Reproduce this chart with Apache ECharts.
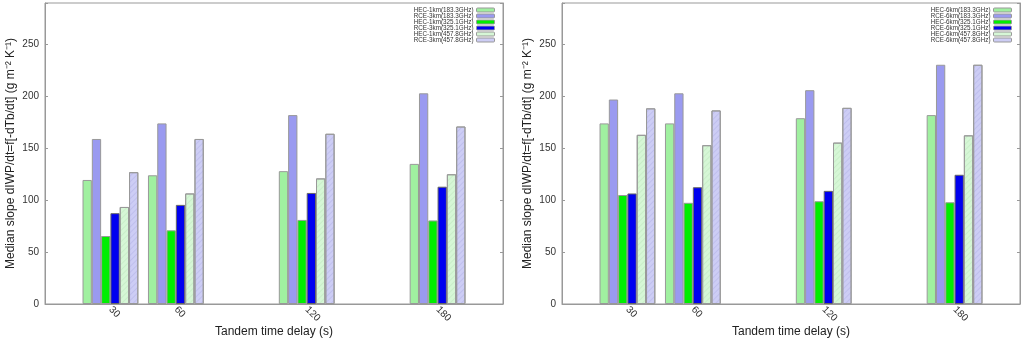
<!DOCTYPE html>
<html>
<head>
<meta charset="utf-8">
<script src="https://cdn.jsdelivr.net/npm/echarts@6/dist/echarts.min.js"></script>
<style>
  html, body { margin: 0; padding: 0; background: #fff; }
  #main { width: 1024px; height: 339px; }
</style>
</head>
<body>
<div id="main"></div>
<script>
// tandem delays (s)
const delays = [30, 60, 120, 180];

// left panel: 1km HEC vs 3km RCE
const hec1km183 = [119.5, 124, 128, 135];
const rce3km183 = [159, 174, 182, 203];
const hec1km325 = [65.5, 71, 81, 80.5];
const rce3km325 = [87.5, 95.5, 107, 113];
const hec1km457 = [93.5, 106.5, 121, 125];
const rce3km457 = [127, 159, 164, 171];

// right panel: 6km HEC vs 6km RCE
const hec6km183 = [174, 174, 179, 182];
const rce6km183 = [197, 203, 206, 230.5];
const hec6km325 = [105, 97.5, 99, 98];
const rce6km325 = [106.5, 112.5, 109, 124.5];
const hec6km457 = [163, 153, 155.5, 162.5];
const rce6km457 = [188.5, 186.5, 189, 230.5];

const colors = ['#a0f0a0', '#9a9af0', '#00ee00', '#0000f0', '#d6f7d6', '#cdcdf5'];
const hatch = [null, null, null, null, 'rgba(150,200,150,0.2)', 'rgba(140,140,210,0.22)'];
const FONT = '"Liberation Sans", Arial, sans-serif';

const chart = echarts.init(document.getElementById('main'));

function pairs(vals) {
  return delays.map((d, i) => [d, vals[i]]);
}

function makeSeries(names, sets, gi) {
  return names.map((name, k) => {
    const style = {
      color: colors[k],
      borderColor: k === 3 ? '#666' : '#999',
      borderWidth: 1
    };
    if (hatch[k]) {
      style.decal = {
        symbol: 'rect', symbolSize: 1,
        dashArrayX: [[1, 0]], dashArrayY: [1, 3],
        rotation: -Math.PI / 4, color: hatch[k]
      };
    }
    return {
      name,
      type: 'bar',
      xAxisIndex: gi,
      yAxisIndex: gi * 2,
      data: pairs(sets[k]),
      barWidth: 9.3,
      barGap: '0%',
      itemStyle: style
    };
  });
}

const leftNames = ['HEC-1km(183.3GHz)', 'RCE-3km(183.3GHz)', 'HEC-1km(325.1GHz)',
  'RCE-3km(325.1GHz)', 'HEC-1km(457.8GHz)', 'RCE-3km(457.8GHz)'];
const rightNames = ['HEC-6km(183.3GHz)', 'RCE-6km(183.3GHz)', 'HEC-6km(325.1GHz)',
  'RCE-6km(325.1GHz)', 'HEC-6km(457.8GHz)', 'RCE-6km(457.8GHz)'];

function xAxisFor(gi) {
  return {
    gridIndex: gi,
    type: 'value',
    min: 0, max: 210, interval: 30,
    name: 'Tandem time delay (s)',
    nameLocation: 'middle',
    nameGap: 22,
    nameMoveOverlap: false,
    nameTextStyle: { fontSize: 12, color: '#222', fontFamily: FONT },
    axisLine: { lineStyle: { color: '#999' } },
    axisTick: { show: false },
    splitLine: { show: false },
    axisLabel: {
      rotate: -45, margin: 4, fontSize: 10, color: '#333', fontFamily: FONT,
      formatter: v => delays.includes(v) ? String(v) : ''
    }
  };
}

function yAxesFor(gi) {
  const base = {
    gridIndex: gi,
    type: 'value',
    min: 0, max: 290, interval: 50,
    splitLine: { show: false },
    axisLine: { show: true, lineStyle: { color: '#999' } },
    axisTick: { show: true, inside: true, length: 3, lineStyle: { color: '#999' } }
  };
  return [
    Object.assign({}, base, {
      position: 'left',
      name: 'Median slope dIWP/dt=f[-dTb/dt] (g m⁻² K⁻¹)',
      nameLocation: 'middle',
      nameGap: 28,
      nameMoveOverlap: false,
      nameTextStyle: { fontSize: 12, color: '#222', fontFamily: FONT },
      axisLabel: {
        margin: 6, fontSize: 10, color: '#333', fontFamily: FONT,
        formatter: v => v % 50 === 0 ? String(v) : ''
      }
    }),
    Object.assign({}, base, {
      position: 'right',
      axisLabel: { show: false }
    })
  ];
}

function legendFor(names, right) {
  return {
    data: names,
    orient: 'vertical',
    right: right,
    top: 7,
    align: 'right',
    itemWidth: 18,
    itemHeight: 4,
    itemGap: 0,
    padding: 0,
    selectedMode: false,
    itemStyle: { borderColor: '#999', borderWidth: 1, decal: 'none' },
    textStyle: { fontSize: 6.3, lineHeight: 5.3, color: '#333', fontFamily: FONT, padding: [0, -2, 0, 0] }
  };
}

chart.setOption({
  backgroundColor: '#fff',
  animation: false,
  grid: [
    { left: 45, top: 3, width: 458, height: 301, show: true, borderColor: '#999', borderWidth: 1,
      outerBoundsMode: 'none', containLabel: false },
    { left: 562, top: 3, width: 458, height: 301, show: true, borderColor: '#999', borderWidth: 1,
      outerBoundsMode: 'none', containLabel: false }
  ],
  legend: [legendFor(leftNames, 529), legendFor(rightNames, 12)],
  xAxis: [xAxisFor(0), xAxisFor(1)],
  yAxis: [...yAxesFor(0), ...yAxesFor(1)],
  series: [
    ...makeSeries(leftNames, [hec1km183, rce3km183, hec1km325, rce3km325, hec1km457, rce3km457], 0),
    ...makeSeries(rightNames, [hec6km183, rce6km183, hec6km325, rce6km325, hec6km457, rce6km457], 1)
  ]
});
</script>
</body>
</html>
